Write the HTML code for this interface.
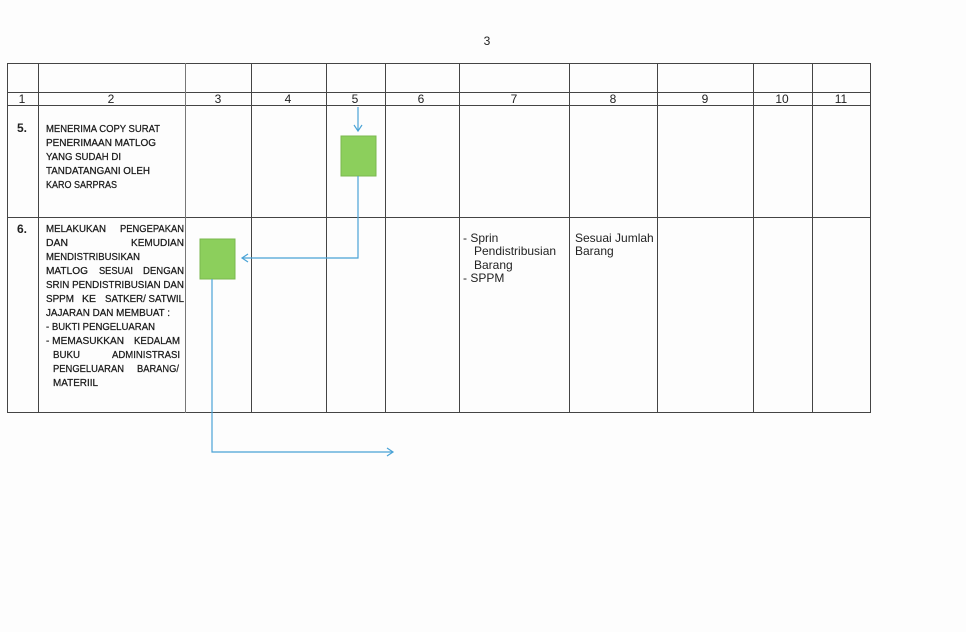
<!DOCTYPE html>
<html><head><meta charset="utf-8"><style>
body{margin:0;background:#fdfdfd;}
svg{display:block}
.n{font-family:"Liberation Sans",sans-serif;font-size:12px;fill:#222;text-anchor:middle}
.c{font-family:"Liberation Sans",sans-serif;font-size:10.5px;fill:#1a1a1a;stroke:#1a1a1a;stroke-width:0.25}
.a{font-family:"Liberation Sans",sans-serif;font-size:12px;fill:#222}
</style></head><body>
<svg width="966" height="632" viewBox="0 0 966 632" xmlns="http://www.w3.org/2000/svg">
<rect width="966" height="632" fill="#fdfdfd"/>
<text x="487" y="45" class="n" font-size="10">3</text>
<g stroke="#444" stroke-width="1" fill="none">
<rect x="7.5" y="63.5" width="863" height="349"/>
<line x1="7" y1="92.5" x2="870" y2="92.5"/>
<line x1="7" y1="105.5" x2="870" y2="105.5"/>
<line x1="7" y1="217.5" x2="870" y2="217.5"/>
<line x1="38.5" y1="63" x2="38.5" y2="413"/>
<line x1="185.5" y1="63" x2="185.5" y2="413" stroke="#777"/>
<line x1="251.5" y1="63" x2="251.5" y2="413"/>
<line x1="326.5" y1="63" x2="326.5" y2="413"/>
<line x1="385.5" y1="63" x2="385.5" y2="413"/>
<line x1="459.5" y1="63" x2="459.5" y2="413"/>
<line x1="569.5" y1="63" x2="569.5" y2="413"/>
<line x1="657.5" y1="63" x2="657.5" y2="413"/>
<line x1="753.5" y1="63" x2="753.5" y2="413"/>
<line x1="812.5" y1="63" x2="812.5" y2="413"/>
</g>
<g>
<text class="n" x="22" y="103">1</text>
<text class="n" x="111" y="103">2</text>
<text class="n" x="218" y="103">3</text>
<text class="n" x="288" y="103">4</text>
<text class="n" x="355" y="103">5</text>
<text class="n" x="421" y="103">6</text>
<text class="n" x="514" y="103">7</text>
<text class="n" x="613" y="103">8</text>
<text class="n" x="705" y="103">9</text>
<text class="n" x="782" y="103">10</text>
<text class="n" x="841" y="103">11</text>
</g>
<text class="a" x="17" y="132" font-weight="bold">5.</text>
<text class="a" x="17" y="233" font-weight="bold">6.</text>
<g>
<text class="c" x="46" y="132" textLength="114" lengthAdjust="spacingAndGlyphs">MENERIMA COPY SURAT</text>
<text class="c" x="46" y="146" textLength="110" lengthAdjust="spacingAndGlyphs">PENERIMAAN  MATLOG</text>
<text class="c" x="46" y="160" textLength="75" lengthAdjust="spacingAndGlyphs">YANG SUDAH DI</text>
<text class="c" x="46" y="174" textLength="104" lengthAdjust="spacingAndGlyphs">TANDATANGANI OLEH</text>
<text class="c" x="46" y="188" textLength="71" lengthAdjust="spacingAndGlyphs">KARO SARPRAS</text>

<text class="c" x="46" y="232" textLength="60" lengthAdjust="spacingAndGlyphs">MELAKUKAN</text><text class="c" x="120" y="232" textLength="64" lengthAdjust="spacingAndGlyphs">PENGEPAKAN</text>
<text class="c" x="46" y="246" textLength="22" lengthAdjust="spacingAndGlyphs">DAN</text><text class="c" x="131" y="246" textLength="53" lengthAdjust="spacingAndGlyphs">KEMUDIAN</text>
<text class="c" x="46" y="260" textLength="94" lengthAdjust="spacingAndGlyphs">MENDISTRIBUSIKAN</text>
<text class="c" x="46" y="274" textLength="42" lengthAdjust="spacingAndGlyphs">MATLOG</text><text class="c" x="99" y="274" textLength="34" lengthAdjust="spacingAndGlyphs">SESUAI</text><text class="c" x="143" y="274" textLength="41" lengthAdjust="spacingAndGlyphs">DENGAN</text>
<text class="c" x="46" y="288" textLength="138" lengthAdjust="spacingAndGlyphs">SRIN PENDISTRIBUSIAN DAN</text>
<text class="c" x="46" y="302" textLength="28" lengthAdjust="spacingAndGlyphs">SPPM</text><text class="c" x="82" y="302" textLength="14" lengthAdjust="spacingAndGlyphs">KE</text><text class="c" x="105" y="302" textLength="79" lengthAdjust="spacingAndGlyphs">SATKER/ SATWIL</text>
<text class="c" x="46" y="316" textLength="124" lengthAdjust="spacingAndGlyphs">JAJARAN DAN MEMBUAT :</text>
<text class="c" x="46" y="330" textLength="109" lengthAdjust="spacingAndGlyphs">- BUKTI PENGELUARAN</text>
<text class="c" x="46" y="344" textLength="78" lengthAdjust="spacingAndGlyphs">- MEMASUKKAN</text><text class="c" x="134" y="344" textLength="46" lengthAdjust="spacingAndGlyphs">KEDALAM</text>
<text class="c" x="53" y="358" textLength="27" lengthAdjust="spacingAndGlyphs">BUKU</text><text class="c" x="112" y="358" textLength="68" lengthAdjust="spacingAndGlyphs">ADMINISTRASI</text>
<text class="c" x="53" y="372" textLength="71" lengthAdjust="spacingAndGlyphs">PENGELUARAN</text><text class="c" x="137" y="372" textLength="42" lengthAdjust="spacingAndGlyphs">BARANG/</text>
<text class="c" x="53" y="386" textLength="45" lengthAdjust="spacingAndGlyphs">MATERIIL</text>
</g>
<text class="a" x="463" y="242">-  Sprin</text>
<text class="a" x="474" y="255">Pendistribusian</text>
<text class="a" x="474" y="269">Barang</text>
<text class="a" x="463" y="282">-  SPPM</text>
<text class="a" x="575" y="242">Sesuai Jumlah</text>
<text class="a" x="575" y="255">Barang</text>

<rect x="341" y="136" width="35" height="40" fill="#8ccf5c" stroke="#7ab84e"/>
<rect x="200" y="239" width="35" height="40" fill="#8ccf5c" stroke="#7ab84e"/>
<g stroke="#4aa3d6" stroke-width="1.2" fill="none">
<line x1="358" y1="107" x2="358" y2="131"/>
<polyline points="354,125 358,131 362,125"/>
<polyline points="358,176 358,258 242,258"/>
<polyline points="248,254 242,258 248,262"/>
<polyline points="212,279 212,452 393,452"/>
<polyline points="387,448 393,452 387,456"/>
</g>
</svg>
</body></html>
